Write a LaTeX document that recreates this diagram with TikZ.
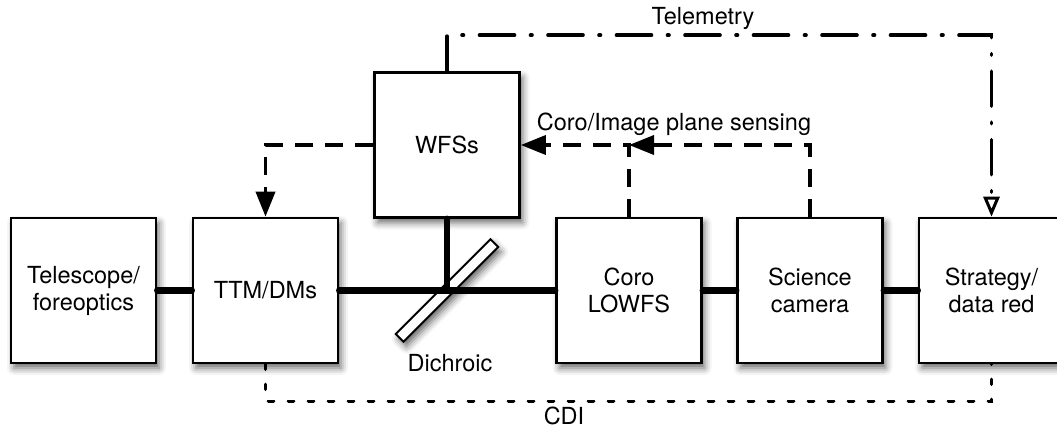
\documentclass[tikz,border=0pt]{standalone}
\usepackage{fontspec}
\setmainfont{TeX Gyre Heros}
\usetikzlibrary{arrows.meta,shadows.blur}
\begin{document}
\begin{tikzpicture}[x=1pt,y=-1pt,font=\fontsize{23.5}{27}\selectfont,
    shdw/.style={blur shadow={shadow xshift=3pt,shadow yshift=-5pt,shadow blur radius=7pt,shadow opacity=60}},
    blk/.style={draw,line width=2.6pt,fill=white,minimum width=145pt,minimum height=145pt,align=center,shdw},
    beam/.style={line width=6.5pt,line cap=round},
    ctl/.style={line width=3.6pt,dash pattern=on 18pt off 12pt,-{Triangle[length=25pt,width=19pt]}},
    tel/.style={line width=3.6pt,line cap=round,dash pattern=on 35pt off 16pt on 1.5pt off 16pt},
    cdi/.style={line width=3.6pt,line cap=round,dash pattern=on 5pt off 15pt}]
    \useasboundingbox (0,0) rectangle (1057,428);
    \clip (0,0) rectangle (1057,428);
    \node[blk] (tel) at (83.5,290.5) {Telescope/\\foreoptics};
    \node[blk] (ttm) at (265.5,290.5) {TTM/DMs};
    \node[blk] (wfs) at (447,145) {WFSs};
    \node[blk] (coro) at (629,290.5) {Coro\\LOWFS};
    \node[blk] (sci) at (810,290.5) {Science\\camera};
    \node[blk] (strat) at (991.5,290.5) {Strategy/\\data red};
    \node[draw,line width=2pt,fill=white,rotate=45,minimum width=134pt,minimum height=11pt,shdw] (dich) at (wfs.south |- ttm.east) {};
    \node (dlab) at (450,363) {Dichroic};
    \draw[beam] (tel.east)--(ttm.west);
    \draw[beam] (ttm.east)--(coro.west);
    \draw[beam] (coro.east)--(sci.west);
    \draw[beam] (sci.east)--(strat.west);
    \draw[beam] (wfs.south)--(dich.center);
    \draw[tel,-{Triangle[open,length=20pt,width=16pt,line width=3pt]}] (wfs.north)--++(0,-36)-|(strat.north);
    \node (telem) at (703,18) {Telemetry};
    \coordinate (cj) at (coro.north |- wfs.east);
    \draw[ctl] (sci.north)|-(cj);
    \draw[ctl] (coro.north)|-(wfs.east);
    \draw[ctl] (wfs.west)-|(ttm.north);
    \node (cis) at (674,124) {Coro/Image plane sensing};
    \draw[cdi] (ttm.south)--++(0,37)-|(strat.south);
    \node (cdil) at (564,416) {CDI};
\end{tikzpicture}
\end{document}
